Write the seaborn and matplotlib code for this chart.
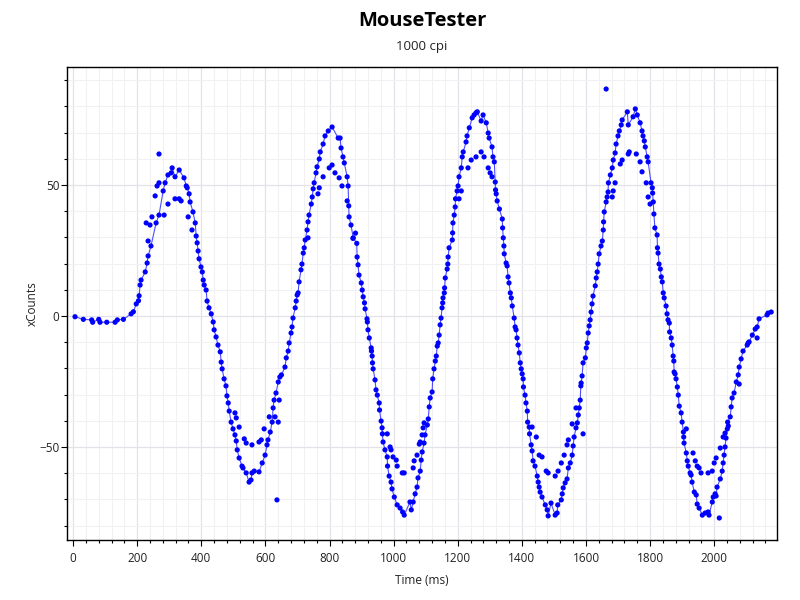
import matplotlib
matplotlib.use("Agg")
import matplotlib.pyplot as plt
import seaborn as sns
import pandas as pd
from matplotlib.ticker import MultipleLocator

title = "MouseTester"
subtitle = "1000 cpi"
x_label = "Time (ms)"
y_label = "xCounts"

main_t = [6, 32, 58, 61, 80, 84, 105, 131, 138, 157, 181, 188, 197, 204, 206, 209, 212, 225, 231, 234,
          243, 259, 268, 281, 287, 296, 306, 309, 318, 331, 346, 353, 356, 362, 365, 374, 381, 384, 387, 390,
          393, 399, 403, 406, 409, 415, 418, 424, 431, 437, 440, 446, 452, 459, 462, 465, 471, 477, 480, 484,
          487, 493, 499, 505, 509, 512, 518, 527, 530, 540, 549, 555, 558, 565, 580, 590, 599, 605, 608, 615,
          621, 624, 627, 633, 640, 645, 650, 661, 665, 671, 674, 680, 683, 686, 693, 696, 699, 702, 705, 711,
          714, 718, 721, 724, 730, 733, 736, 743, 746, 749, 752, 758, 761, 768, 771, 780, 786, 796, 808, 827,
          833, 836, 842, 846, 855, 858, 860, 861, 867, 874, 885, 886, 889, 892, 899, 902, 905, 909, 911, 917,
          918, 920, 924, 930, 931, 933, 934, 936, 942, 945, 949, 955, 956, 961, 964, 965, 967, 973, 980, 981,
          986, 992, 995, 1002, 1011, 1020, 1028, 1033, 1051, 1055, 1061, 1067, 1073, 1076, 1083, 1086, 1089, 1095, 1098, 1105,
          1108, 1111, 1114, 1120, 1122, 1126, 1130, 1133, 1136, 1139, 1142, 1145, 1148, 1151, 1153, 1154, 1158, 1159, 1161, 1167,
          1169, 1170, 1173, 1183, 1184, 1185, 1189, 1192, 1193, 1198, 1201, 1204, 1211, 1214, 1217, 1226, 1229, 1236, 1245, 1251,
          1257, 1261, 1273, 1279, 1289, 1295, 1298, 1307, 1310, 1314, 1317, 1318, 1320, 1323, 1330, 1339, 1340, 1342, 1344, 1345,
          1351, 1354, 1357, 1360, 1364, 1367, 1370, 1376, 1379, 1382, 1385, 1388, 1392, 1395, 1398, 1401, 1404, 1405, 1410, 1413,
          1417, 1418, 1423, 1424, 1429, 1432, 1435, 1441, 1448, 1451, 1454, 1457, 1463, 1473, 1479, 1482, 1491, 1504, 1510, 1512,
          1523, 1526, 1529, 1535, 1541, 1545, 1551, 1557, 1560, 1563, 1569, 1573, 1576, 1579, 1582, 1584, 1585, 1588, 1591, 1598,
          1601, 1604, 1607, 1610, 1613, 1616, 1619, 1622, 1629, 1632, 1635, 1638, 1641, 1647, 1651, 1654, 1655, 1657, 1663, 1666,
          1669, 1670, 1676, 1682, 1685, 1691, 1694, 1700, 1704, 1710, 1713, 1729, 1732, 1747, 1754, 1760, 1769, 1775, 1778, 1782,
          1785, 1791, 1794, 1803, 1807, 1808, 1810, 1812, 1815, 1822, 1823, 1825, 1828, 1832, 1835, 1838, 1841, 1844, 1850, 1853,
          1856, 1860, 1861, 1866, 1869, 1872, 1874, 1875, 1878, 1881, 1885, 1888, 1891, 1897, 1900, 1904, 1905, 1906, 1913, 1916,
          1919, 1925, 1928, 1931, 1938, 1944, 1947, 1953, 1963, 1972, 1981, 1984, 1994, 1997, 2003, 2006, 2009, 2019, 2025, 2028,
          2031, 2034, 2037, 2041, 2042, 2050, 2053, 2056, 2062, 2069, 2075, 2078, 2084, 2090, 2103, 2106, 2109, 2119, 2128, 2134,
          2140, 2165, 2168, 2178]
main_y = [-0.3, -1.3, -1.5, -2.4, -1.3, -2.4, -2.4, -2.4, -1.5, -1.3, 0.8, 1.6, 4.6, 5.8, 7.7, 11.8, 13.7, 16.8, 20.2, 22.9,
          26.7, 35.5, 38.5, 47.7, 50.8, 53.8, 54.6, 56.5, 53.1, 55.7, 52.7, 49.6, 48.9, 46.6, 43.5, 39.7, 35.5, 30.5, 27.9, 24.8,
          21.8, 18.7, 16.8, 13.7, 11.8, 9.9, 5.7, 3.1, 0.8, -2.3, -5.3, -8.0, -11.1, -13.7, -17.6, -20.2, -24.0, -26.7, -30.5, -33.2,
          -36.3, -40.5, -43.1, -45.4, -47.7, -51.1, -54.2, -57.3, -58.0, -59.9, -63.4, -62.6, -59.9, -59.2, -59.5, -56.1, -53.1, -49.2, -47.3, -44.3,
          -40.5, -35.1, -32.1, -29.4, -25.2, -23.3, -22.5, -19.5, -16.0, -13.4, -10.3, -6.5, -4.2, -0.8, 3.1, 5.7, 8.0, 8.8, 13.0, 17.6,
          19.8, 24.0, 26.0, 29.0, 32.8, 35.9, 38.5, 42.7, 45.4, 48.5, 50.8, 54.6, 56.9, 59.9, 62.6, 65.6, 68.7, 70.6, 72.1, 67.9,
          67.9, 64.1, 60.7, 58.4, 53.1, 49.6, 42.0, 37.8, 34.7, 29.8, 27.7, 22.5, 19.5, 15.6, 12.6, 9.9, 7.3, 5.0, 2.7, -1.1,
          -2.3, -5.3, -8.4, -12.2, -13.4, -15.3, -17.9, -20.2, -24.4, -28.2, -30.2, -33.2, -35.9, -40.1, -42.7, -45.0, -48.1, -51.1, -53.8, -57.3,
          -61.1, -63.4, -66.0, -69.1, -72.1, -73.3, -74.8, -76.0, -71.0, -74.0, -71.0, -67.9, -65.3, -61.8, -59.2, -55.0, -51.9, -48.5, -45.4, -41.6,
          -39.3, -34.7, -31.3, -29.0, -24.0, -20.2, -17.2, -15.3, -11.5, -10.3, -7.3, -3.4, -0.8, 3.1, 5.0, 6.9, 8.8, 10.7, 14.5, 17.9,
          19.8, 22.5, 26.0, 29.0, 31.7, 35.5, 38.5, 41.6, 44.7, 47.7, 49.6, 53.1, 56.5, 60.7, 62.6, 66.4, 68.7, 71.8, 75.6, 76.7,
          77.5, 77.9, 74.4, 76.7, 73.7, 69.8, 67.9, 64.5, 60.7, 58.8, 51.1, 48.1, 46.6, 43.9, 40.8, 37.0, 33.6, 29.8, 26.7, 23.7,
          20.2, 19.1, 14.9, 12.6, 8.8, 6.9, 3.8, -0.8, -4.2, -5.3, -8.4, -11.1, -14.1, -17.9, -20.2, -22.1, -24.0, -27.1, -30.2, -33.2,
          -36.3, -40.5, -42.4, -45.0, -49.2, -51.5, -55.3, -57.3, -61.1, -63.4, -65.3, -67.2, -69.1, -72.1, -74.0, -76.3, -71.4, -76.0, -75.2, -72.1,
          -70.2, -67.9, -65.6, -63.7, -62.2, -58.0, -56.1, -53.1, -49.6, -46.2, -42.7, -40.8, -37.8, -35.1, -32.1, -26.7, -25.6, -22.9, -17.9, -16.0,
          -12.2, -10.3, -6.5, -3.8, -1.5, 1.5, 4.6, 7.6, 11.5, 14.5, 16.8, 19.8, 23.7, 26.7, 28.6, 32.8, 35.9, 39.7, 43.5, 45.4,
          47.3, 50.8, 53.8, 56.5, 59.5, 62.2, 65.6, 68.7, 70.6, 72.9, 74.8, 77.9, 72.9, 76.0, 79.0, 76.7, 73.7, 70.6, 68.7, 66.8,
          64.5, 60.7, 58.8, 50.8, 48.9, 46.9, 43.5, 38.9, 33.6, 30.9, 26.0, 24.0, 19.8, 17.9, 14.9, 13.0, 8.8, 6.9, 3.8, 0.8,
          -1.5, -2.7, -6.1, -8.4, -11.1, -15.3, -17.2, -21.4, -22.1, -24.0, -27.1, -30.2, -34.4, -37.0, -40.5, -44.3, -46.2, -48.5, -52.3, -55.3,
          -57.3, -59.9, -60.7, -63.4, -67.2, -68.3, -71.8, -73.3, -76.0, -75.2, -74.8, -76.0, -71.0, -69.1, -67.9, -68.7, -65.3, -62.2, -59.2, -56.1,
          -53.1, -50.0, -46.6, -43.1, -40.5, -38.5, -34.7, -31.3, -29.4, -25.2, -22.5, -19.5, -16.4, -13.4, -11.1, -10.3, -9.9, -7.3, -5.0, -4.2,
          -1.1, 0.4, 1.1, 1.5]

extra_t = [228, 234, 240, 246, 256, 262, 268, 268, 284, 296, 318, 331, 337, 359, 371,
           505, 509, 518, 534, 540, 558, 580, 587, 596, 612, 630, 640, 643, 636,
           733, 764, 768, 780, 799, 808, 817, 830, 839, 855, 873, 881,
           980, 989, 992, 998, 1008, 1011, 1027, 1033, 1061, 1064, 1073, 1080, 1083, 1089, 1092, 1095,
           1204, 1211, 1232, 1242, 1257, 1273, 1282, 1295, 1301, 1307,
           1432, 1445, 1454, 1463, 1476, 1482, 1504, 1513, 1523, 1532, 1541, 1545, 1557, 1569, 1591,
           1663, 1682, 1685, 1691, 1707, 1713, 1732, 1735, 1757, 1769, 1775, 1788, 1794, 1800,
           1913, 1934, 1941, 1947, 1953, 1959, 1981, 1994, 2000, 2006, 2019, 2028, 2034, 2044, 2016, 2078, 2134]
extra_y = [35.5, 28.6, 34.7, 37.8, 45.8, 49.6, 50.8, 61.8, 38.5, 42.7, 44.7, 44.7, 43.9, 37.8, 32.8,
           -37.0, -38.9, -42.4, -46.9, -48.5, -49.2, -48.1, -47.3, -43.1, -38.5, -38.5, -40.5, -32.1, -70.2,
           29.8, 46.6, 48.9, 53.1, 56.5, 57.6, 54.6, 52.7, 49.6, 43.9, 29.6, 31.6,
           -45.0, -50.0, -51.1, -53.8, -55.0, -57.3, -59.9, -59.9, -58.0, -55.3, -53.1, -48.9, -48.1, -45.4, -42.7, -40.8,
           44.7, 47.7, 56.5, 59.5, 60.7, 62.6, 60.7, 56.5, 54.6, 53.1,
           -42.4, -46.2, -53.1, -53.8, -59.2, -59.9, -61.1, -59.2, -56.1, -53.1, -49.2, -47.3, -41.2, -35.1, -45.0,
           86.6, 45.4, 47.7, 50.8, 58.0, 59.5, 61.8, 62.6, 61.8, 58.8, 55.0, 50.8, 45.4, 42.7,
           -43.1, -52.3, -55.3, -57.3, -58.0, -59.9, -59.9, -59.2, -56.1, -54.2, -50.4, -46.2, -44.7, -42.0, -77.1, -26.0, -8.4]

main_df = pd.DataFrame({"t": main_t, "y": main_y})
extra_df = pd.DataFrame({"t": extra_t, "y": extra_y})
all_df = pd.concat([main_df, extra_df], ignore_index=True)

sns.set_style("white")
plt.rcParams['font.family'] = ['Open Sans', 'DejaVu Sans']

fig = plt.figure(figsize=(8, 6), dpi=100)
ax = fig.add_axes([67/800, 60/600, 710/800, 473/600])

sns.lineplot(data=main_df, x="t", y="y", ax=ax, sort=False, estimator=None,
             color="#3a3aff", linewidth=0.8, alpha=0.9, zorder=2)
sns.scatterplot(data=all_df, x="t", y="y", ax=ax, color="#0000ff", s=14,
                edgecolor="none", linewidth=0, zorder=3)

ax.set_xlim(-19, 2196)
ax.set_ylim(-85.5, 95)
ax.xaxis.set_major_locator(MultipleLocator(200))
ax.xaxis.set_minor_locator(MultipleLocator(40))
ax.yaxis.set_major_locator(MultipleLocator(50))
ax.yaxis.set_minor_locator(MultipleLocator(10))
ax.grid(which="major", color="#e2e2e8", linewidth=0.9, zorder=0)
ax.grid(which="minor", color="#f1f1f4", linewidth=0.8, zorder=0)
ax.set_axisbelow(True)
for sp in ax.spines.values():
    sp.set_color("black")
    sp.set_linewidth(1.0)
ax.tick_params(axis="both", which="major", direction="out", length=4, width=0.8,
               color="black", labelsize=8.5, labelcolor="#222222",
               bottom=True, left=True, top=False, right=False)
ax.tick_params(axis="x", which="major", pad=5)
ax.tick_params(axis="y", which="major", pad=1.5)
ax.tick_params(axis="both", which="minor", direction="out", length=2.5, width=0.8,
               color="black", bottom=True, left=True, top=False, right=False)
ax.set_xlabel(x_label, fontsize=8.5, color="#222222", labelpad=6)
ax.set_ylabel(y_label, fontsize=8.5, color="#222222")
ax.yaxis.set_label_coords(-0.04, 0.5)

fig.text(0.5275, 0.965, title, ha="center", va="center", fontsize=14.5, fontweight="bold", color="black")
fig.text(0.5275, 0.923, subtitle, ha="center", va="center", fontsize=9.5, color="#222222")

fig.savefig("out.png", dpi=100, facecolor="white")
